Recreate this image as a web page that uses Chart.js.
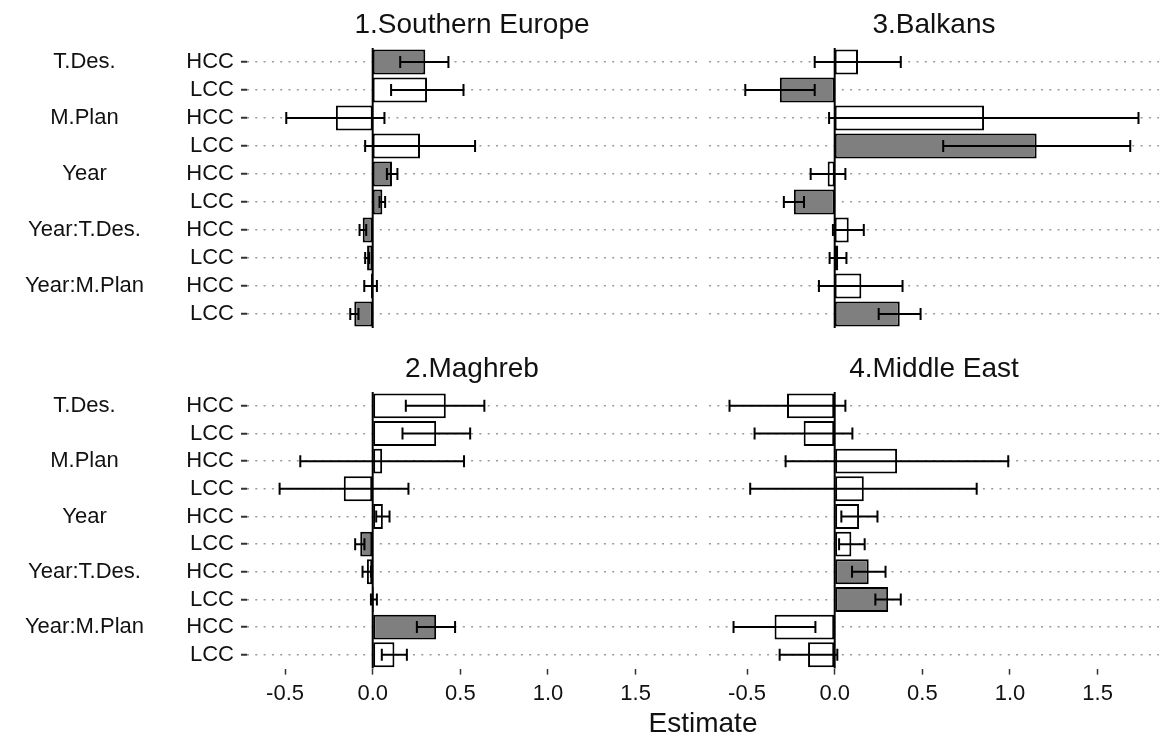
<!DOCTYPE html>
<html>
<head>
<meta charset="utf-8">
<script src="https://cdn.jsdelivr.net/npm/chart.js@4"></script>
<style>
body { margin: 0; background: #fff; }
#wrap { position: relative; width: 1162px; height: 738px; overflow: hidden; font-family: "Liberation Sans", Arial, sans-serif; }
canvas { position: absolute; }
#xlab { position: absolute; left: 247px; width: 912px; top: 706px; text-align: center; font-size: 28px; line-height: 34px; color: #111; }
</style>
</head>
<body>
<div id="wrap">
  <canvas id="c1" width="700" height="332" style="left:0;top:0"></canvas>
  <canvas id="c3" width="457" height="332" style="left:705px;top:0"></canvas>
  <canvas id="c2" width="700" height="369" style="left:0;top:344px"></canvas>
  <canvas id="c4" width="457" height="369" style="left:705px;top:344px"></canvas>
  <div id="xlab">Estimate</div>
</div>
<script>
// rows of every panel, top to bottom
var rows = ['HCC', 'LCC', 'HCC', 'LCC', 'HCC', 'LCC', 'HCC', 'LCC', 'HCC', 'LCC'];
var groups = ['T.Des.', '', 'M.Plan', '', 'Year', '', 'Year:T.Des.', '', 'Year:M.Plan', ''];
var xTicks = [-0.5, 0, 0.5, 1, 1.5];

// 1.Southern Europe
var seEst = [0.30, 0.31, -0.21, 0.27, 0.11, 0.055, -0.057, -0.032, -0.01, -0.105];
var seLo  = [0.157, 0.105, -0.493, -0.043, 0.081, 0.039, -0.075, -0.043, -0.048, -0.128];
var seHi  = [0.432, 0.518, 0.067, 0.584, 0.141, 0.071, -0.037, -0.02, 0.024, -0.081];
var seSig = [1, 0, 0, 0, 1, 1, 1, 1, 1, 1];

// 2.Maghreb
var maEst = [0.417, 0.362, 0.054, -0.165, 0.058, -0.071, -0.033, 0.007, 0.362, 0.124];
var maLo  = [0.189, 0.17, -0.413, -0.531, 0.02, -0.1, -0.058, -0.01, 0.252, 0.052];
var maHi  = [0.637, 0.556, 0.521, 0.204, 0.096, -0.047, -0.01, 0.024, 0.47, 0.195];
var maSig = [0, 0, 0, 0, 0, 1, 0, 1, 1, 0];

// 3.Balkans
var baEst = [0.133, -0.313, 0.852, 1.152, -0.04, -0.233, 0.08, 0.02, 0.152, 0.371];
var baLo  = [-0.114, -0.51, -0.032, 0.619, -0.137, -0.29, -0.01, -0.029, -0.09, 0.251];
var baHi  = [0.377, -0.114, 1.733, 1.686, 0.061, -0.175, 0.166, 0.067, 0.387, 0.49];
var baSig = [0, 1, 0, 1, 0, 1, 0, 0, 0, 1];

// 4.Middle East
var meEst = [-0.272, -0.177, 0.356, 0.166, 0.139, 0.095, 0.194, 0.305, -0.343, -0.152];
var meLo  = [-0.6, -0.457, -0.28, -0.482, 0.038, 0.025, 0.099, 0.232, -0.577, -0.314];
var meHi  = [0.061, 0.101, 0.99, 0.81, 0.244, 0.171, 0.29, 0.377, -0.11, 0.015];
var meSig = [0, 0, 0, 0, 0, 0, 1, 1, 0, 0];

Chart.defaults.font.family = '"Liberation Sans", Arial, sans-serif';
Chart.defaults.color = '#111';

// zero line and error bars on top of the bars
var errorBars = {
    id: 'errorBars',
    afterDatasetsDraw: function(chart) {
        var ctx = chart.ctx, area = chart.chartArea;
        var x = chart.scales.x, y = chart.scales.y;
        var ds = chart.data.datasets[0];
        ctx.save();
        ctx.strokeStyle = '#000';
        ctx.lineWidth = 2;
        var x0 = x.getPixelForValue(0);
        ctx.beginPath();
        ctx.moveTo(x0, area.top);
        ctx.lineTo(x0, area.bottom);
        ctx.stroke();
        ds.lo.forEach(function(lo, i) {
            var yc = y.getPixelForValue(i);
            var xl = x.getPixelForValue(lo), xh = x.getPixelForValue(ds.hi[i]);
            ctx.beginPath();
            ctx.moveTo(xl, yc); ctx.lineTo(xh, yc);
            ctx.moveTo(xl, yc - 6); ctx.lineTo(xl, yc + 6);
            ctx.moveTo(xh, yc - 6); ctx.lineTo(xh, yc + 6);
            ctx.stroke();
        });
        ctx.restore();
    }
};

// fixed axis width, no extra vertical padding for the labels
function fixWidth(w) {
    return function(axis) {
        if (w !== null) axis.width = w;
        axis.paddingTop = 0;
        axis.paddingBottom = 0;
    };
}

function makePanel(id, title, est, lo, hi, sig, left, bottom) {
    var scales = {
        x: {
            min: -0.717,
            max: 1.85,
            display: bottom,
            afterBuildTicks: function(axis) {
                axis.ticks = xTicks.map(function(v) { return { value: v }; });
            },
            ticks: {
                font: { size: 22 },
                color: '#111',
                padding: 6,
                maxRotation: 0,
                callback: function(v) { return v.toFixed(1); }
            },
            grid: { drawOnChartArea: false, tickLength: 6, tickColor: '#333', tickWidth: 1.5 },
            border: { display: false }
        },
        y: {
            offset: true,
            grid: {
                offset: false,
                color: '#9a9a9a',
                lineWidth: 1.5,
                drawTicks: left,
                tickLength: 6,
                tickColor: '#333',
                tickWidth: 2
            },
            border: { display: false, dash: [2, 6.3] },
            ticks: { display: left, autoSkip: false, font: { size: 22 }, color: '#111', padding: 7 },
            afterFit: fixWidth(left ? 87 : null)
        }
    };
    if (left) {
        scales.yg = {
            type: 'category',
            axis: 'y',
            position: 'left',
            weight: 1,
            offset: true,
            labels: groups,
            grid: { display: false, drawTicks: false },
            border: { display: false },
            ticks: { autoSkip: false, crossAlign: 'center', font: { size: 22 }, color: '#111', padding: 16 },
            afterFit: fixWidth(160)
        };
    }
    return new Chart(document.getElementById(id), {
        type: 'bar',
        data: {
            labels: rows,
            datasets: [{
                data: est,
                lo: lo,
                hi: hi,
                backgroundColor: sig.map(function(s) { return s ? '#7f7f7f' : '#ffffff'; }),
                borderColor: '#000',
                borderWidth: 2,
                borderSkipped: false,
                barPercentage: 0.9,
                categoryPercentage: 1.0
            }]
        },
        options: {
            indexAxis: 'y',
            responsive: false,
            animation: false,
            layout: { padding: { left: left ? 0 : 4, right: 3, top: 0, bottom: bottom ? 0 : 4 } },
            plugins: {
                legend: { display: false },
                tooltip: { enabled: false },
                title: {
                    display: true,
                    text: title,
                    fullSize: false,
                    color: '#111',
                    font: { size: 28, weight: 'normal' },
                    padding: { top: 8, bottom: 6.4 }
                }
            },
            scales: scales
        },
        plugins: [errorBars]
    });
}

makePanel('c1', '1.Southern Europe', seEst, seLo, seHi, seSig, true, false);
makePanel('c3', '3.Balkans', baEst, baLo, baHi, baSig, false, false);
makePanel('c2', '2.Maghreb', maEst, maLo, maHi, maSig, true, true);
makePanel('c4', '4.Middle East', meEst, meLo, meHi, meSig, false, true);
</script>
</body>
</html>
